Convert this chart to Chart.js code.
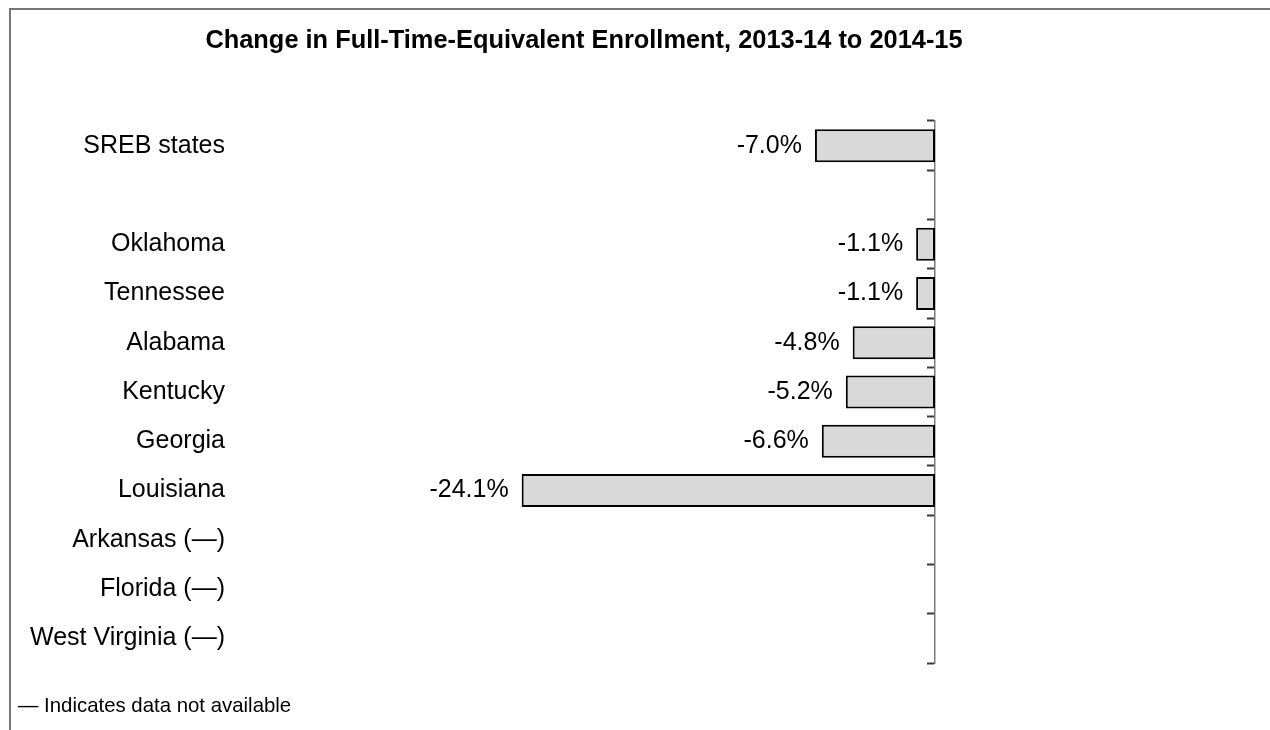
<!DOCTYPE html>
<html>
<head>
<meta charset="utf-8">
<script src="https://cdn.jsdelivr.net/npm/chart.js@4.4.1/dist/chart.umd.min.js"></script>
<style>
  html, body { margin: 0; padding: 0; width: 1270px; height: 730px; overflow: hidden; background: #fff; }
  #frame { position: absolute; left: 9px; top: 8px; width: 1400px; height: 900px; border: 2px solid #767676; }
  #wrap { position: absolute; left: 0; top: 0; width: 1270px; height: 730px; }
  #note { position: absolute; left: 18px; top: 695px; font: 20.4px "Liberation Sans", Arial, sans-serif; line-height: 20px; color: #000; white-space: nowrap; }
</style>
</head>
<body>
<div id="frame"></div>
<div id="wrap"><canvas id="chart" width="1270" height="730"></canvas></div>
<div id="note">— Indicates data not available</div>
<script>
// States and the SREB total; the empty entry keeps a spacer row under the total.
const categories = [
  'SREB states', '', 'Oklahoma', 'Tennessee', 'Alabama', 'Kentucky',
  'Georgia', 'Louisiana', 'Arkansas (—)', 'Florida (—)', 'West Virginia (—)'
];
// Percent change in full-time-equivalent enrollment (null = not available).
const changePct = [-7.0, null, -1.1, -1.1, -4.8, -5.2, -6.6, -24.1, null, null, null];
const axisMin = -40;
const axisMax = 0;
const titleText = 'Change in Full-Time-Equivalent Enrollment, 2013-14 to 2014-15';

const FONT = '"Liberation Sans", Arial, sans-serif';

// Chart heading, centred over the plot and its category labels.
const heading = {
  id: 'heading',
  afterDraw(chart) {
    const ctx = chart.ctx;
    ctx.save();
    ctx.font = 'bold 25.4px "Liberation Sans"';
    ctx.fillStyle = '#000';
    ctx.textAlign = 'center';
    ctx.textBaseline = 'middle';
    ctx.fillText(titleText, 584, 41);
    ctx.restore();
  }
};

// Writes each bar's value just left of its end.
const valueLabels = {
  id: 'valueLabels',
  afterDatasetsDraw(chart) {
    const ctx = chart.ctx;
    const meta = chart.getDatasetMeta(0);
    ctx.save();
    ctx.font = '25px ' + FONT;
    ctx.fillStyle = '#000';
    ctx.textAlign = 'right';
    ctx.textBaseline = 'middle';
    meta.data.forEach((bar, i) => {
      const v = changePct[i];
      if (v === null || v === undefined) return;
      ctx.fillText(v.toFixed(1) + '%', bar.x - 13, bar.y);
    });
    ctx.restore();
  }
};

new Chart(document.getElementById('chart'), {
  type: 'bar',
  data: {
    labels: categories,
    datasets: [{
      data: changePct,
      backgroundColor: '#d9d9d9',
      borderColor: '#000',
      borderWidth: 2,
      borderSkipped: false,
      barPercentage: 0.67,
      categoryPercentage: 1.0
    }]
  },
  options: {
    indexAxis: 'y',
    responsive: false,
    devicePixelRatio: 1,
    animation: false,
    layout: { padding: { left: 20, right: 335, top: 121, bottom: 67 } },
    plugins: {
      legend: { display: false },
      tooltip: { enabled: false },
      title: { display: false }
    },
    scales: {
      x: { display: false, min: axisMin, max: axisMax },
      y: {
        position: 'left',
        grid: { display: false, drawTicks: false },
        border: { display: false },
        ticks: {
          autoSkip: false,
          color: '#000',
          padding: 24,
          font: { family: FONT, size: 25 }
        },
        afterFit(scale) { scale.width = 229; }
      },
      yZero: {
        type: 'category',
        labels: categories,
        position: { x: 0 },
        offset: true,
        grid: {
          offset: true,
          drawOnChartArea: false,
          drawTicks: true,
          tickLength: 7,
          tickWidth: 2,
          tickColor: '#3a3a3a'
        },
        border: { display: true, color: '#7a7a7a', width: 1.5 },
        ticks: { display: false }
      }
    }
  },
  plugins: [valueLabels, heading]
});
</script>
</body>
</html>
